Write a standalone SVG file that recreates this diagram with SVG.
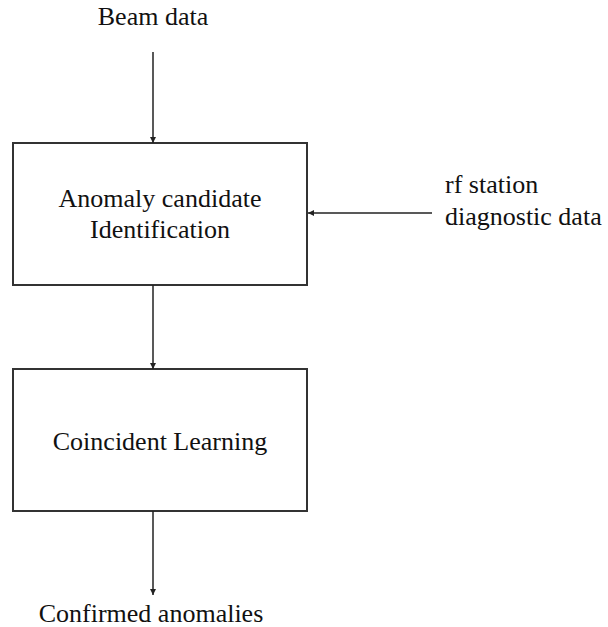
<svg xmlns="http://www.w3.org/2000/svg" width="608" height="627" viewBox="0 0 608 627">
<style>
.t { font-family: 'Liberation Serif', 'Times New Roman', Times, serif; font-size: 26px; fill: #111; }
.box { fill: #fff; stroke: #333; stroke-width: 2; }
.conn { stroke: #222; stroke-width: 1.5; fill: none; marker-end: url(#arr); }
</style>
<defs>
<marker id="arr" viewBox="0 0 10 10" refX="10" refY="5" markerWidth="6" markerHeight="6" markerUnits="userSpaceOnUse" orient="auto">
<path d="M0,0 L10,5 L0,10 z" fill="#222"/>
</marker>
</defs>
<rect width="608" height="627" fill="#fff"/>
<g class="t" font-family="Liberation Serif, serif">
<g id="beam-data"><text x="153" y="25" text-anchor="middle">Beam data</text></g>
<g id="anomaly-candidate">
<rect class="box" x="13" y="143" width="294" height="142"/>
<text x="160" y="207" text-anchor="middle">Anomaly candidate</text>
<text x="160" y="238" text-anchor="middle">Identification</text>
</g>
<g id="rf-station">
<text x="445" y="193">rf station</text>
<text x="445" y="225">diagnostic data</text>
</g>
<g id="coincident-learning">
<rect class="box" x="13" y="369" width="294" height="142"/>
<text x="160" y="450" text-anchor="middle">Coincident Learning</text>
</g>
<g id="confirmed"><text x="151" y="622" text-anchor="middle">Confirmed anomalies</text></g>
</g>
<g id="connectors">
<line class="conn" x1="153" y1="52" x2="153" y2="143"/>
<line class="conn" x1="432" y1="213" x2="308" y2="213"/>
<line class="conn" x1="153" y1="285" x2="153" y2="369"/>
<line class="conn" x1="153" y1="511" x2="153" y2="595"/>
</g>
</svg>
